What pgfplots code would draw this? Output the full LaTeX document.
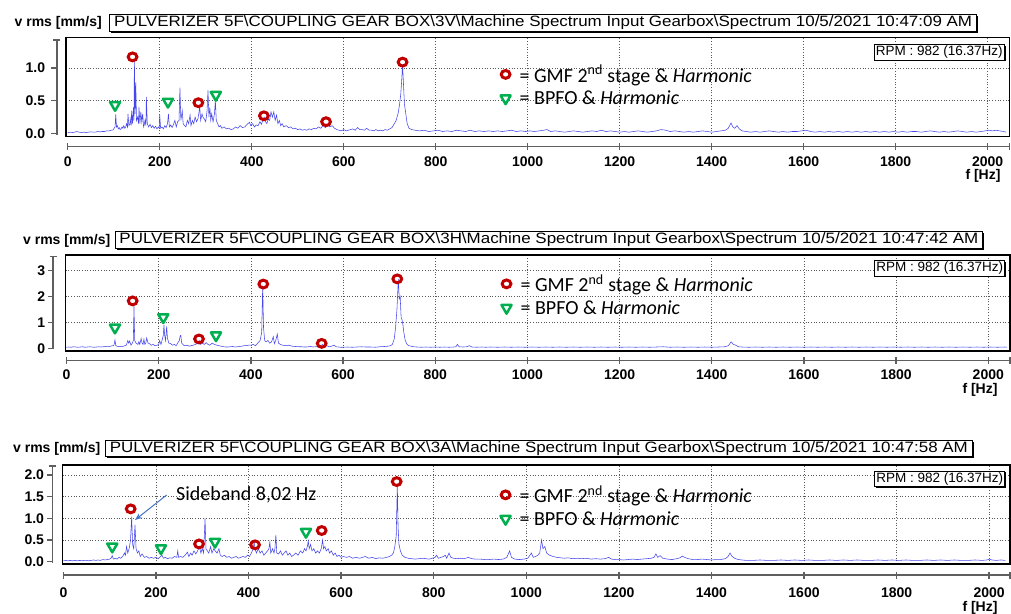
\documentclass[border=0pt]{standalone}
\usepackage{fontspec}
\setmainfont{Liberation Sans}
\newfontfamily\titlefont[FakeStretch=1.13]{Liberation Sans}
\newfontfamily\calibri{Carlito}
\usepackage{pgfplots}
\pgfplotsset{compat=1.18}
\usetikzlibrary{shadows,arrows.meta}

\definecolor{spec}{RGB}{70,70,235}
\definecolor{gmfred}{RGB}{192,0,0}
\definecolor{bpfogreen}{RGB}{0,176,80}
\definecolor{arrowblue}{RGB}{68,114,196}
\definecolor{axgray}{RGB}{95,95,95}

\newcommand\ticklab{\fontsize{14}{14}\selectfont\bfseries}
\newcommand\leg{\calibri\fontsize{20}{22}\selectfont}

\tikzset{
  rpm/.style={anchor=north east, draw=black, line width=0.6pt, fill=white, inner sep=1.6pt,
    minimum height=15.5pt, font=\fontsize{13.5}{14}\selectfont,
    drop shadow={shadow xshift=1.3pt, shadow yshift=-1.3pt, fill=black, opacity=1}},
  ttl/.style={anchor=west, draw=black, line width=0.8pt, fill=white, minimum width=867pt,
    minimum height=16.5pt, inner sep=0pt,
    drop shadow={shadow xshift=1.5pt, shadow yshift=-1.5pt, fill=black, opacity=1},
    font=\titlefont\fontsize{15}{15}\selectfont},
  vrms/.style={anchor=east, inner sep=0pt, font=\fontsize{14}{14}\selectfont\bfseries},
  fhz/.style={font=\ticklab, inner sep=0pt},
}

% detached x axis (filled bars): #1 x0, #2 y, #3 length, #4 xmax (Hz at right end)
\newcommand\xdetaxis[4]{%
  \fill[axgray] (#1,{#2-0.75}) rectangle ({#1+#3},{#2+0.75});
  \foreach \h in {0,200,...,2000} {\fill[axgray] ({#1+\h/#4*#3-0.7},{#2-3.5}) rectangle ++(1.4,7);}
  \fill[axgray] ({#1+#3-0.7},{#2-3.5}) rectangle ++(1.4,7);
}
% detached y axis (filled bars): #1 x, #2 y0, #3 height, #4 ymin, #5 range, #6 tick values
\newcommand\ydetaxis[6]{%
  \fill[axgray] ({#1-0.75},#2) rectangle ({#1+0.75},{#2+#3});
  \foreach \v in {#6} {\fill[axgray] ({#1-5.5},{#2+(\v-#4)/#5*#3-0.7}) rectangle ++(5.5,1.4);}
  \fill[axgray] ({#1-3.5},{#2+#3-0.7}) rectangle ++(7,1.4);
}

\pgfplotsset{
  mainax/.style={
    scale only axis, anchor=south west,
    xtick={200,400,...,2000}, xticklabels={}, yticklabels={},
    major tick length=0pt, grid=major,
    major grid style={black!65, line width=0.6pt, dash pattern=on 1pt off 1.7pt},
    axis line style={black, line width=1.3pt},
    legend cell align=left,
    legend style={draw=none, fill=none, inner sep=0pt, font=\leg, anchor=north west, row sep=7pt,
      nodes={inner sep=0pt},
      /tikz/every odd column/.append style={column sep=9pt}},
  },
  spectrum/.style={spec, line width=0.55pt, forget plot},
  gmf/.style={only marks, mark=o, mark size=3.9pt, color=gmfred,
    mark options={line width=3pt, xscale=1.12},
    legend image code/.code={\draw[##1] plot coordinates {(0pt,0pt)};}},
  bpfo/.style={only marks, mark=triangle*, mark size=5.8pt, color=bpfogreen,
    mark options={rotate=180, draw=bpfogreen, fill=white, line width=2.5pt, line join=round},
    legend image code/.code={\draw[##1] plot coordinates {(0pt,0pt)};}},
  xdet/.style={scale only axis, anchor=south west, height=1pt, ymin=0, ymax=1, xmin=0,
    clip=false, axis line style={draw=none}, ytick=\empty, xtick pos=left,
    xtick={0,200,...,2000},
    xticklabels={0,200,400,600,800,1000,1200,1400,1600,1800,2000},
    major tick length=0pt,
    xticklabel style={font=\ticklab, anchor=center, inner sep=0pt}},
  ydet/.style={scale only axis, anchor=south west, width=1pt, xmin=0, xmax=1,
    clip=false, axis line style={draw=none}, xtick=\empty, ytick pos=left,
    major tick length=0pt,
    yticklabel style={font=\ticklab, anchor=east, inner sep=0pt}},
}

\begin{document}
\begin{tikzpicture}[x=1pt,y=1pt]
\useasboundingbox (0,0) rectangle (1011,613);

%================ PANEL 1 (3V) ================
\begin{axis}[mainax, at={(66pt,476.3pt)}, width=943.5pt, height=99pt,
  xmin=-3.7, xmax=2047.4, ymin=-0.049, ymax=1.463, ytick={0.5,1.0},
  legend style={at={(rel axis cs:0.4604,0.726)}}]
\addplot[spectrum] coordinates {
(0,0.01)(5,0.02)(10,0.015)(15,0.02)(20,0.03)(25,0.02)(30,0.015)(35,0.02)(40,0.015)(45,0.02)(50,0.025)(55,0.02)(60,0.02)(65,0.03)(70,0.025)(75,0.03)(80,0.03)(85,0.04)(90,0.04)(95,0.05)(98,0.05)(101,0.08)(103,0.1)(104.5,0.29)(106,0.1)(108,0.12)(110,0.07)(112,0.09)(114,0.06)(116,0.07)(118,0.1)(120,0.08)(122,0.12)(124,0.08)(126,0.1)(128,0.15)(130,0.1)(131,0.3)(133,0.12)(135,0.14)(136,0.22)(138,0.12)(139,0.35)(141,0.15)(143,0.4)(144,0.2)(145,1.10)(146.5,0.3)(148,0.78)(149.5,0.2)(152,0.25)(154,0.15)(155,0.4)(157,0.15)(159,0.33)(161,0.18)(163,0.3)(165,0.1)(166,0.12)(168,0.2)(170,0.12)(171,0.56)(173,0.15)(176,0.1)(179,0.14)(182,0.09)(185,0.12)(188,0.08)(191,0.11)(194,0.07)(197,0.1)(199,0.08)(200,0.29)(202,0.08)(205,0.1)(208,0.07)(211,0.12)(214,0.09)(217,0.15)(219,0.3)(221,0.1)(224,0.13)(227,0.09)(230,0.14)(233,0.2)(236,0.1)(239,0.18)(242,0.2)(244,0.70)(246,0.2)(249,0.35)(251,0.15)(254,0.12)(257,0.1)(260,0.2)(263,0.15)(266,0.28)(268,0.12)(271,0.2)(274,0.15)(277,0.25)(280,0.18)(283,0.22)(285,0.3)(287,0.41)(289,0.2)(292,0.3)(294,0.25)(297,0.22)(300,0.18)(303,0.35)(305,0.66)(307,0.25)(309,0.4)(311,0.2)(313,0.3)(316,0.18)(319,0.3)(321,0.5)(323,0.2)(326,0.15)(329,0.1)(332,0.12)(335,0.08)(340,0.1)(345,0.07)(350,0.08)(355,0.06)(360,0.07)(365,0.1)(370,0.08)(375,0.12)(380,0.09)(385,0.1)(390,0.14)(395,0.17)(398,0.12)(402,0.15)(406,0.1)(410,0.13)(414,0.12)(418,0.18)(421,0.14)(424,0.2)(427,0.25)(430,0.18)(433,0.15)(436,0.22)(439,0.2)(442,0.33)(445,0.25)(448,0.33)(451,0.2)(454,0.28)(457,0.15)(460,0.2)(463,0.12)(466,0.15)(470,0.1)(475,0.12)(480,0.09)(485,0.1)(490,0.07)(495,0.08)(500,0.06)(505,0.07)(510,0.05)(515,0.06)(520,0.05)(525,0.07)(530,0.06)(535,0.08)(540,0.07)(545,0.1)(550,0.08)(555,0.12)(560,0.09)(565,0.13)(570,0.1)(575,0.12)(580,0.08)(585,0.06)(590,0.05)(595,0.04)(600,0.06)(605,0.04)(610,0.05)(615,0.06)(620,0.07)(625,0.05)(630,0.09)(635,0.06)(640,0.06)(645,0.05)(650,0.08)(655,0.05)(660,0.05)(665,0.04)(670,0.06)(675,0.04)(680,0.05)(685,0.04)(690,0.06)(695,0.05)(700,0.07)(705,0.09)(710,0.15)(714,0.2)(718,0.3)(721,0.42)(724,0.6)(726,0.8)(728,1.05)(730,0.75)(732,0.45)(735,0.3)(738,0.15)(742,0.08)(748,0.06)(755,0.05)(765,0.04)(775,0.05)(785,0.03)(795,0.04)(805,0.05)(815,0.03)(825,0.04)(835,0.03)(845,0.05)(855,0.04)(865,0.03)(875,0.05)(885,0.03)(895,0.04)(905,0.03)(915,0.04)(925,0.03)(935,0.04)(945,0.03)(955,0.04)(965,0.05)(975,0.03)(985,0.04)(995,0.03)(1005,0.04)(1015,0.03)(1025,0.04)(1035,0.05)(1042,0.06)(1050,0.03)(1060,0.04)(1070,0.03)(1080,0.02)(1090,0.03)(1100,0.04)(1110,0.03)(1120,0.02)(1130,0.03)(1140,0.04)(1150,0.03)(1160,0.05)(1170,0.03)(1180,0.04)(1190,0.03)(1200,0.02)(1210,0.03)(1220,0.02)(1230,0.03)(1240,0.04)(1250,0.03)(1260,0.02)(1270,0.03)(1280,0.04)(1290,0.06)(1300,0.05)(1310,0.03)(1320,0.04)(1330,0.03)(1340,0.02)(1350,0.03)(1360,0.02)(1370,0.03)(1380,0.04)(1390,0.03)(1400,0.02)(1410,0.03)(1420,0.04)(1430,0.05)(1436,0.08)(1442,0.16)(1446,0.1)(1450,0.08)(1455,0.12)(1460,0.07)(1466,0.04)(1475,0.03)(1485,0.02)(1495,0.03)(1505,0.02)(1515,0.03)(1525,0.04)(1535,0.03)(1545,0.02)(1555,0.03)(1565,0.02)(1575,0.03)(1585,0.03)(1595,0.04)(1605,0.05)(1615,0.03)(1625,0.02)(1635,0.03)(1645,0.02)(1655,0.03)(1665,0.02)(1675,0.03)(1685,0.02)(1695,0.03)(1705,0.02)(1715,0.03)(1725,0.02)(1735,0.03)(1745,0.02)(1755,0.03)(1765,0.02)(1775,0.03)(1785,0.02)(1795,0.03)(1805,0.02)(1815,0.03)(1825,0.02)(1835,0.03)(1845,0.03)(1855,0.02)(1865,0.03)(1875,0.04)(1885,0.03)(1895,0.02)(1905,0.03)(1915,0.02)(1925,0.03)(1935,0.04)(1945,0.03)(1955,0.02)(1965,0.03)(1975,0.02)(1985,0.03)(1995,0.04)(2003,0.05)(2010,0.04)(2018,0.05)(2026,0.04)(2034,0.03)(2040,0.02)
};
\addplot[gmf] coordinates {(141,1.17)(284,0.47)(426.5,0.27)(561.6,0.18)(728,1.09)};
\addlegendentry{= GMF 2\textsuperscript{nd} stage \& \textit{Harmonic}}
\addplot[bpfo] coordinates {(103,0.435)(218,0.485)(322,0.59)};
\addlegendentry{= BPFO \& \textit{Harmonic}}
\node[rpm, xshift=-5pt, yshift=-6.3pt] at (rel axis cs:1,1) {RPM : 982 (16.37Hz)};
\end{axis}
\begin{axis}[xdet, at={(67.7pt,466.7pt)}, width=941.8pt, xmax=2047.4,
  xticklabel style={yshift=-15pt}]
\end{axis}
\begin{axis}[ydet, at={(56.8pt,478pt)}, height=95pt, ymin=-0.0229, ymax=1.4275,
  ytick={0,0.5,1.0}, yticklabels={0.0,0.5,1.0},
  yticklabel style={xshift=-11.5pt}]
\end{axis}
\node[vrms] at (102,590.3) {v rms [mm/s]};
\node[ttl] at (109.3,590.1) {PULVERIZER 5F\textbackslash COUPLING GEAR BOX\textbackslash 3V\textbackslash Machine Spectrum Input Gearbox\textbackslash Spectrum 10/5/2021 10:47:09 AM};
\node[fhz] at (983,437.5) {f [Hz]};

%================ PANEL 2 (3H) ================
\begin{axis}[mainax, at={(65.7pt,262pt)}, width=944.3pt, height=96pt,
  xmin=-1.7, xmax=2047.1, ymin=-0.104, ymax=3.602, ytick={1,2,3},
  legend style={at={(rel axis cs:0.4613,0.799)}}]
\addplot[spectrum] coordinates {
(0,0.04)(5,0.05)(10,0.04)(15,0.06)(20,0.05)(25,0.04)(30,0.05)(35,0.06)(40,0.04)(45,0.05)(50,0.06)(55,0.05)(60,0.04)(65,0.05)(70,0.06)(75,0.05)(80,0.06)(85,0.07)(90,0.06)(95,0.08)(100,0.1)(103,0.12)(105.2,0.32)(107,0.1)(110,0.08)(114,0.06)(118,0.08)(122,0.07)(126,0.1)(130,0.12)(133,0.3)(135,0.2)(137,0.28)(140,0.12)(143,0.2)(145,0.3)(146.5,1.62)(148,0.3)(151,0.2)(155,0.15)(157,0.25)(159,0.15)(162,0.38)(164,0.2)(166,0.15)(168,0.35)(170,0.15)(172,0.2)(174,0.4)(177,0.2)(180,0.18)(184,0.12)(188,0.15)(192,0.1)(197,0.12)(200,0.15)(202,0.3)(205,0.15)(208,0.35)(210,0.5)(211.5,0.9)(213,0.5)(215,0.3)(217.4,0.85)(219,0.4)(222,0.2)(226,0.18)(230,0.12)(234,0.15)(238,0.1)(241,0.2)(243,0.25)(245,0.3)(246.5,0.48)(248,0.5)(250,0.2)(254,0.12)(258,0.1)(262,0.12)(266,0.08)(270,0.1)(275,0.12)(280,0.15)(284,0.2)(288,0.3)(291,0.15)(295,0.2)(299,0.15)(303,0.22)(307,0.15)(311,0.12)(316,0.2)(321,0.15)(326,0.12)(331,0.1)(336,0.08)(341,0.06)(346,0.05)(350,0.05)(355,0.06)(360,0.07)(365,0.05)(370,0.06)(375,0.07)(380,0.08)(385,0.1)(390,0.1)(395,0.12)(400,0.12)(405,0.15)(410,0.1)(415,0.2)(420,0.3)(423.5,0.6)(425.7,2.42)(427.5,0.8)(430,0.3)(433,0.25)(437,0.3)(441,0.2)(445,0.25)(448.7,0.45)(451,0.18)(454,0.3)(457.4,0.55)(460,0.2)(464,0.15)(469,0.12)(475,0.1)(482,0.12)(490,0.08)(497,0.07)(505,0.06)(510,0.06)(515,0.05)(520,0.05)(525,0.06)(530,0.07)(535,0.05)(540,0.06)(545,0.07)(550,0.08)(556,0.15)(560,0.08)(565,0.1)(570,0.06)(575,0.08)(580,0.12)(585,0.06)(590,0.05)(595,0.04)(600,0.04)(610,0.05)(620,0.04)(630,0.05)(640,0.06)(650,0.05)(660,0.05)(670,0.04)(680,0.06)(690,0.07)(697,0.08)(703,0.1)(707,0.15)(711,0.35)(714,0.8)(717,1.5)(720,2.68)(722,1.9)(724,2.0)(726,1.2)(728,1.1)(730,0.9)(732,0.6)(735,0.3)(739,0.15)(743,0.1)(748,0.08)(753,0.06)(760,0.05)(770,0.04)(780,0.05)(790,0.04)(800,0.05)(810,0.04)(820,0.05)(830,0.04)(840,0.05)(845,0.06)(848,0.15)(852,0.06)(860,0.05)(868,0.06)(874,0.1)(880,0.05)(890,0.04)(900,0.05)(910,0.04)(920,0.05)(935,0.04)(950,0.05)(965,0.04)(980,0.05)(995,0.04)(1010,0.05)(1025,0.04)(1040,0.05)(1055,0.04)(1070,0.05)(1085,0.04)(1100,0.05)(1115,0.04)(1130,0.05)(1145,0.04)(1160,0.05)(1175,0.04)(1190,0.05)(1205,0.04)(1220,0.05)(1235,0.04)(1250,0.05)(1265,0.04)(1280,0.05)(1295,0.06)(1310,0.04)(1325,0.05)(1340,0.04)(1355,0.05)(1370,0.04)(1385,0.05)(1400,0.04)(1415,0.05)(1428,0.06)(1436,0.1)(1442,0.25)(1447,0.15)(1452,0.12)(1458,0.06)(1466,0.05)(1480,0.04)(1495,0.05)(1510,0.04)(1525,0.05)(1540,0.04)(1555,0.05)(1570,0.04)(1585,0.05)(1600,0.04)(1615,0.05)(1630,0.04)(1645,0.05)(1660,0.04)(1675,0.05)(1690,0.04)(1705,0.05)(1720,0.04)(1735,0.05)(1750,0.04)(1765,0.05)(1780,0.04)(1795,0.05)(1810,0.04)(1825,0.05)(1840,0.04)(1855,0.05)(1870,0.04)(1885,0.05)(1900,0.04)(1915,0.05)(1930,0.04)(1945,0.05)(1960,0.04)(1975,0.05)(1990,0.04)(2005,0.05)(2020,0.04)(2035,0.05)(2040,0.04)
};
\addplot[gmf] coordinates {(143.6,1.83)(287.5,0.36)(427,2.48)(553.7,0.19)(717.7,2.68)};
\addlegendentry{= GMF 2\textsuperscript{nd} stage \& \textit{Harmonic}}
\addplot[bpfo] coordinates {(105.2,0.80)(210,1.20)(324.4,0.50)};
\addlegendentry{= BPFO \& \textit{Harmonic}}
\node[rpm, xshift=-5pt, yshift=-5pt] at (rel axis cs:1,1) {RPM : 982 (16.37Hz)};
\end{axis}
\begin{axis}[xdet, at={(66.5pt,252.3pt)}, width=943.5pt, xmax=2047.1,
  xticklabel style={yshift=-14pt}]
\end{axis}
\begin{axis}[ydet, at={(53pt,264pt)}, height=92.3pt, ymin=-0.027, ymax=3.537,
  ytick={0,1,2,3}, yticklabels={0,1,2,3},
  yticklabel style={xshift=-7.7pt}]
\end{axis}
\node[vrms] at (110.5,372) {v rms [mm/s]};
\node[ttl] at (115,373) {PULVERIZER 5F\textbackslash COUPLING GEAR BOX\textbackslash 3H\textbackslash Machine Spectrum Input Gearbox\textbackslash Spectrum 10/5/2021 10:47:42 AM};
\node[fhz] at (980,223) {f [Hz]};

%================ PANEL 3 (3A) ================
\begin{axis}[mainax, at={(62.7pt,49pt)}, width=947.3pt, height=99pt,
  xmin=-1.5, xmax=2045, ymin=-0.053, ymax=2.233, ytick={0.5,1.0,1.5,2.0},
  legend style={at={(rel axis cs:0.462,0.795)}}]
\addplot[spectrum] coordinates {
(0,0.02)(5,0.03)(10,0.02)(15,0.03)(20,0.02)(25,0.03)(30,0.02)(35,0.03)(40,0.02)(45,0.03)(50,0.03)(55,0.02)(60,0.03)(65,0.04)(70,0.03)(75,0.04)(80,0.03)(85,0.05)(90,0.04)(95,0.05)(100,0.06)(103,0.08)(105.5,0.14)(108,0.06)(112,0.08)(116,0.06)(120,0.1)(124,0.08)(128,0.12)(132,0.2)(134,0.15)(136.5,0.35)(139,0.2)(142,0.3)(145,0.5)(147.5,1.04)(149.5,0.4)(152,0.3)(154.7,0.85)(157,0.3)(160,0.2)(163,0.25)(166,0.12)(170,0.18)(175,0.1)(180,0.12)(185,0.08)(190,0.1)(195,0.08)(200,0.1)(205,0.07)(210,0.12)(213,0.15)(216,0.08)(220,0.1)(225,0.07)(230,0.09)(235,0.08)(240,0.12)(245,0.1)(247,0.25)(249,0.1)(253,0.12)(258,0.1)(263,0.15)(268,0.22)(271,0.12)(275,0.2)(278,0.15)(282,0.25)(286,0.18)(290,0.25)(294,0.35)(297,0.2)(300,0.3)(303,0.2)(306,1.0)(308,0.3)(311,0.25)(314,0.2)(318,0.35)(321,0.2)(325,0.3)(328,0.25)(332,0.2)(336,0.3)(339,0.15)(343,0.12)(348,0.15)(353,0.1)(358,0.12)(363,0.08)(368,0.1)(373,0.12)(378,0.08)(383,0.1)(388,0.12)(393,0.1)(398,0.15)(402,0.12)(406,0.2)(410,0.3)(412,0.45)(414,0.3)(417,0.2)(421,0.3)(425,0.2)(429,0.25)(433,0.15)(437,0.2)(441,0.25)(444,0.3)(446,0.45)(448,0.2)(452,0.3)(455,0.2)(457,0.3)(459,0.62)(461,0.2)(465,0.18)(469,0.25)(473,0.15)(477,0.2)(481,0.25)(485,0.15)(489,0.2)(493,0.12)(497,0.15)(502,0.2)(507,0.15)(512,0.25)(517,0.2)(521,0.3)(524,0.25)(527,0.35)(529,0.48)(531,0.3)(534,0.4)(537,0.25)(541,0.3)(545,0.2)(549,0.25)(553,0.2)(557,0.3)(560,0.5)(562,0.3)(565,0.35)(568,0.25)(572,0.3)(575,0.2)(579,0.25)(583,0.15)(587,0.2)(591,0.12)(595,0.15)(600,0.1)(605,0.12)(612,0.1)(618,0.12)(625,0.08)(632,0.1)(640,0.08)(646,0.1)(652,0.12)(660,0.08)(667,0.1)(675,0.07)(682,0.09)(690,0.08)(698,0.1)(704,0.12)(709,0.15)(713,0.2)(716,0.35)(719,0.6)(721.4,1.77)(723,0.8)(725,0.4)(728,0.25)(732,0.15)(738,0.1)(745,0.08)(752,0.07)(760,0.06)(768,0.07)(775,0.08)(783,0.07)(790,0.06)(797,0.08)(803,0.1)(806,0.15)(810,0.08)(816,0.1)(821,0.12)(825,0.15)(828,0.08)(833,0.2)(837,0.1)(843,0.08)(850,0.07)(858,0.08)(866,0.07)(875,0.1)(882,0.07)(890,0.06)(900,0.06)(910,0.05)(920,0.05)(930,0.06)(940,0.05)(950,0.06)(958,0.1)(964,0.25)(968,0.1)(975,0.06)(985,0.05)(995,0.06)(1003,0.08)(1008,0.15)(1011,0.2)(1015,0.1)(1020,0.12)(1025,0.15)(1029,0.2)(1033,0.5)(1036,0.3)(1040,0.35)(1044,0.2)(1050,0.15)(1058,0.12)(1066,0.1)(1074,0.09)(1082,0.08)(1090,0.09)(1100,0.07)(1110,0.08)(1120,0.07)(1130,0.08)(1140,0.06)(1150,0.07)(1160,0.06)(1170,0.07)(1178,0.1)(1184,0.06)(1192,0.05)(1200,0.05)(1210,0.04)(1220,0.05)(1230,0.06)(1240,0.05)(1250,0.06)(1260,0.07)(1270,0.08)(1276,0.1)(1280,0.18)(1284,0.1)(1289,0.14)(1295,0.08)(1305,0.06)(1315,0.05)(1325,0.07)(1332,0.09)(1337,0.13)(1342,0.1)(1350,0.07)(1360,0.05)(1370,0.05)(1380,0.06)(1390,0.05)(1400,0.04)(1410,0.05)(1420,0.05)(1430,0.07)(1436,0.12)(1440,0.2)(1444,0.13)(1450,0.08)(1458,0.05)(1466,0.04)(1475,0.03)(1490,0.03)(1505,0.04)(1520,0.03)(1535,0.03)(1550,0.04)(1565,0.03)(1580,0.04)(1595,0.03)(1610,0.04)(1625,0.03)(1640,0.03)(1655,0.04)(1670,0.03)(1685,0.04)(1700,0.03)(1715,0.04)(1730,0.03)(1745,0.03)(1760,0.04)(1775,0.03)(1790,0.04)(1805,0.03)(1820,0.04)(1835,0.03)(1850,0.03)(1865,0.04)(1880,0.03)(1895,0.04)(1910,0.03)(1925,0.04)(1940,0.03)(1955,0.03)(1970,0.04)(1985,0.03)(1995,0.04)(2000,0.06)(2006,0.04)(2015,0.03)(2025,0.04)(2035,0.03)
};
\addplot[gmf] coordinates {(145.4,1.22)(293,0.41)(414,0.39)(558,0.72)(720,1.85)};
\addlegendentry{= GMF 2\textsuperscript{nd} stage \& \textit{Harmonic}}
\addplot[bpfo] coordinates {(105.6,0.35)(210.8,0.31)(327.5,0.46)(524,0.69)};
\addlegendentry{= BPFO \& \textit{Harmonic}}
\node[rpm, xshift=-5pt, yshift=-5.7pt] at (rel axis cs:1,1) {RPM : 982 (16.37Hz)};
\node[anchor=base west, font=\leg, inner sep=0pt] at (axis cs:243.2,1.409) {Sideband 8,02 Hz};
\draw[arrowblue, line width=1pt, -{Stealth[length=7pt,width=5.5pt]}] (axis cs:223,1.54) -- (axis cs:154.7,0.963);
\end{axis}
\begin{axis}[xdet, at={(63.4pt,38pt)}, width=946.6pt, xmax=2045,
  xticklabel style={yshift=-17.5pt}]
\end{axis}
\begin{axis}[ydet, at={(52.7pt,50pt)}, height=97pt, ymin=-0.03, ymax=2.21,
  ytick={0,0.5,1,1.5,2}, yticklabels={0.0,0.5,1.0,1.5,2.0},
  yticklabel style={xshift=-8.5pt}]
\end{axis}
\node[vrms] at (100.5,164.5) {v rms [mm/s]};
\node[ttl] at (105,164.4) {PULVERIZER 5F\textbackslash COUPLING GEAR BOX\textbackslash 3A\textbackslash Machine Spectrum Input Gearbox\textbackslash Spectrum 10/5/2021 10:47:58 AM};
\node[fhz] at (980,5.5) {f [Hz]};

% detached axis lines as filled bars, drawn last
\xdetaxis{67.7}{466.7}{941.8}{2047.4}
\ydetaxis{56.8}{478}{95}{-0.0229}{1.4504}{0,0.5,1.0}
\xdetaxis{66.5}{252.3}{943.5}{2047.1}
\ydetaxis{53}{264}{92.3}{-0.027}{3.564}{0,1,2,3}
\xdetaxis{63.4}{38}{946.6}{2045}
\ydetaxis{52.7}{50}{97}{-0.03}{2.24}{0,0.5,1.0,1.5,2.0}
\end{tikzpicture}
\end{document}
